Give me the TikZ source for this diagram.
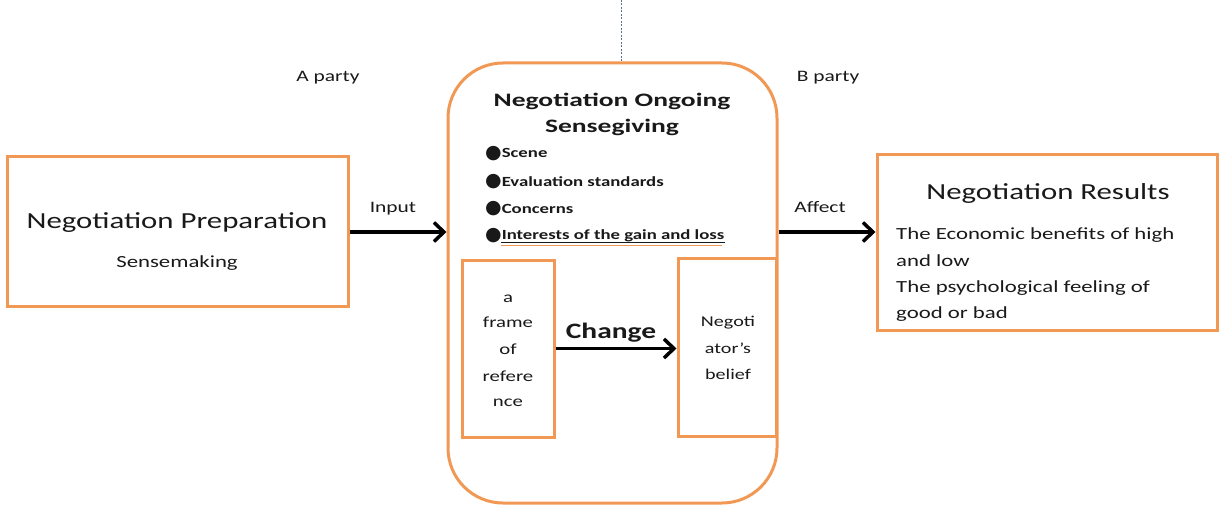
\documentclass[tikz,border=0pt]{standalone}
\usepackage{fontspec}
\setmainfont{Carlito}[FakeStretch=1.34]
\newfontfamily\headfont{Carlito}[FakeStretch=1.45]
\newfontfamily\symfont{DejaVu Sans}
\usetikzlibrary{arrows.meta,calc}
\definecolor{boxorange}{RGB}{240,152,84}
\definecolor{inkdark}{RGB}{25,25,25}
\definecolor{guide}{RGB}{95,110,145}
\newcommand{\fsz}[1]{\fontsize{#1}{#1}\selectfont}
\newcommand{\dotmark}{{\symfont\fsz{19}\raisebox{-0.5pt}{●}}}

\begin{document}
\begin{tikzpicture}[x=1pt,y=-1pt,
  obox/.style={draw=boxorange,line width=3pt,inner sep=0pt},
  flowarrow/.style={draw=black,line width=3.5pt,
    -{Straight Barb[length=10pt,width=19pt,line width=3.5pt]}},
  txt/.style={inner sep=0pt,anchor=base,text=inkdark},
  ltxt/.style={inner sep=0pt,anchor=base west,text=inkdark},
  bul/.style={ltxt,font=\fsz{14}\bfseries}]
\useasboundingbox (0,0) rectangle (1219,508);

% boxes
\node[obox,minimum width=341pt,minimum height=149pt] (prep) at (177.5,231.5) {};
\node[obox,rounded corners=55pt,minimum width=329pt,minimum height=440pt] (ongoing) at (612.5,283) {};
\node[obox,minimum width=340pt,minimum height=175pt] (results) at (1047,242.5) {};
\node[obox,minimum width=92pt,minimum height=177pt] (frameref) at (508,348.5) {};
\node[obox,minimum width=98pt,minimum height=178pt] (belief) at (727,347) {};

% dashed guide above the middle box
\coordinate (gtop) at (621,0);
\draw[guide,line width=0.8pt,dash pattern=on 2pt off 1.5pt] (gtop) -- (gtop |- ongoing.north);

% party labels
\node[txt,font=\fsz{16}] (aparty) at (328,82) {A party};
\node[txt,font=\fsz{16}] (bparty) at (828,82) {B party};

% preparation
\node[txt,font=\fsz{23}] (preptitle) at (177,228) {Negotiation Preparation};
\node[txt,font=\fsz{17}] (prepsub) at (177,267) {Sensemaking};

% ongoing negotiation
\node[txt,font=\headfont\fsz{19}\bfseries] (ongt1) at (612,107) {Negotiation Ongoing};
\node[txt,font=\headfont\fsz{19}\bfseries] (ongt2) at (612,133) {Sensegiving};
\node[bul] (b1) at (485,158) {\dotmark Scene};
\node[bul] (b2) at (485,186) {\dotmark Evaluation standards};
\node[bul] (b3) at (485,213) {\dotmark Concerns};
\node[bul] (b4) at (485,240) {\dotmark Interests of the gain and loss};
\draw[inkdark,line width=0.6pt] (501,242.5) -- (b4.base east |- 0,242.5);
\draw[boxorange,line width=0.9pt] (501,245.5) -- (722,245.5);

% inner boxes text
\foreach \t/\y [count=\i] in {a/302,frame/327,of/354,refere/381,nce/406}
  \node[txt,font=\fsz{15.5}] (fr\i) at (508,\y) {\t};
\foreach \t/\y [count=\i] in {Negoti/326,ator’s/353,belief/379}
  \node[txt,font=\fsz{15}] (be\i) at (728,\y) {\t};
\node[txt,font=\fsz{22}\bfseries] (changelbl) at (611,338) {Change};

% results
\node[txt,font=\fsz{23}] (restitle) at (1048,200) {Negotiation Results};
\node[ltxt,font=\fsz{17}] (r1) at (896,240) {The Economic benefits of high};
\node[ltxt,font=\fsz{17}] (r2) at (896,266) {and low};
\node[ltxt,font=\fsz{17}] (r3) at (896,292) {The psychological feeling of};
\node[ltxt,font=\fsz{17}] (r4) at (896,318) {good or bad};

% arrows
\node[txt,font=\fsz{16}] (inputlbl) at (393,212) {Input};
\node[txt,font=\fsz{16}] (affectlbl) at (820,212) {Affect};
\draw[flowarrow] (prep.east |- 0,232) -- (ongoing.west |- 0,232);
\draw[flowarrow] (ongoing.east |- 0,232) -- (results.west |- 0,232);
\draw[flowarrow] (frameref.east) -- (frameref.east -| belief.west);
\end{tikzpicture}
\end{document}
